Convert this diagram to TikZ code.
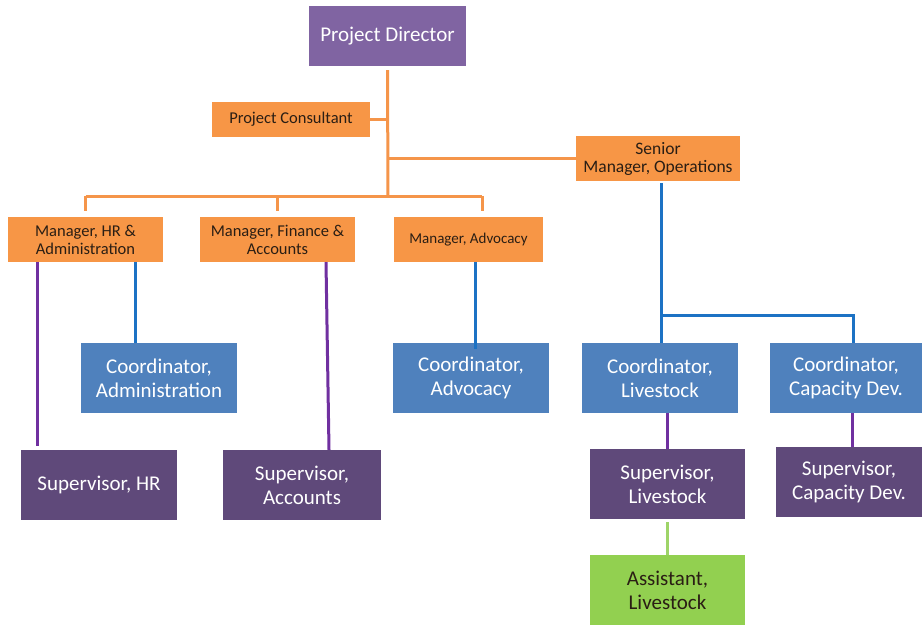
\documentclass[tikz,border=0pt]{standalone}
\usepackage{fontspec}
\setmainfont{Carlito}
\definecolor{orfill}{HTML}{F79646}
\definecolor{blfill}{HTML}{4F81BD}
\definecolor{lifill}{HTML}{8064A2}
\definecolor{dpfill}{HTML}{5F497A}
\definecolor{grfill}{HTML}{92D050}
\definecolor{orline}{HTML}{F5954A}
\definecolor{blline}{HTML}{1C72C4}
\definecolor{puline}{HTML}{7030A0}
\definecolor{grline}{HTML}{9ED468}
\definecolor{darktext}{HTML}{2A1E14}
\begin{document}
\begin{tikzpicture}[x=1pt,y=-1pt,
  box/.style={rectangle,inner sep=0pt,align=center},
  orbox/.style={box,fill=orfill,text=darktext,font=\fontsize{16.5}{18}\selectfont,minimum height=45pt},
  blbox/.style={box,fill=blfill,text=white,font=\fontsize{21}{24}\selectfont,minimum height=70pt},
  dpbox/.style={box,fill=dpfill,text=white,font=\fontsize{21}{24}\selectfont,minimum height=70pt},
  grbox/.style={box,fill=grfill,text=darktext,font=\fontsize{21}{24}\selectfont,minimum height=70pt},
  orl/.style={draw=orline,line width=3pt},
  bll/.style={draw=blline,line width=3pt},
  pul/.style={draw=puline,line width=3pt},
  grl/.style={draw=grline,line width=3pt}]
\useasboundingbox[fill=white] (0,0) rectangle (922,625);
% nodes
\node[box,fill=lifill,text=white,font=\fontsize{21}{24}\selectfont,minimum width=157pt,minimum height=60pt] (pd) at (387.5,36) {Project Director};
\node[orbox,minimum width=158pt,minimum height=35pt] (pc) at (291,119.5) {Project Consultant};
\node[orbox,minimum width=164pt,font=\fontsize{17.5}{18}\selectfont] (sm) at (658,158.5) {Senior\\Manager, Operations};
\node[orbox,minimum width=155pt] (mhr) at (85.5,239.5) {Manager, HR \&\\Administration};
\node[orbox,minimum width=155pt] (mfin) at (277.5,239.5) {Manager, Finance \&\\Accounts};
\node[orbox,minimum width=149pt,font=\fontsize{15}{18}\selectfont] (mad) at (468.5,239.5) {Manager, Advocacy};
\node[blbox,minimum width=156pt] (cadm) at (159,378) {Coordinator,\\Administration};
\node[blbox,minimum width=156pt] (cadv) at (471,378) {Coordinator,\\Advocacy};
\node[blbox,minimum width=156pt] (cl) at (660,378) {Coordinator,\\Livestock};
\node[blbox,minimum width=152pt] (cc) at (846,378) {Coordinator,\\Capacity Dev.};
\node[dpbox,minimum width=156pt] (shr) at (99,485) {Supervisor, HR};
\node[dpbox,minimum width=158pt] (sacc) at (302,485) {Supervisor,\\Accounts};
\node[dpbox,minimum width=155pt] (sl) at (667.5,484) {Supervisor,\\Livestock};
\node[dpbox,minimum width=146pt] (scap) at (849,482) {Supervisor,\\Capacity Dev.};
\node[grbox,minimum width=155pt] (as) at (667.5,590) {Assistant,\\Livestock};
% orange connectors
\coordinate (bus) at (388,196);
\draw[orl] ([yshift=-4pt]pd.south) -- (bus);
\draw[orl] (pc.east) -- (pc.east -| bus);
\draw[orl] (sm.west) -- (sm.west -| bus);
\draw[orl] (mhr.north |- bus) -- ([xshift=13.5pt]mad.north |- bus);
\draw[orl] (mhr.north |- bus) -- ([yshift=6pt]mhr.north);
\draw[orl] (mfin.north |- bus) -- ([yshift=6pt]mfin.north);
\draw[orl] ([xshift=13.5pt]mad.north |- bus) -- ([xshift=13.5pt,yshift=6pt]mad.north);
% blue connectors from senior manager
\coordinate (sb) at (661,315);
\coordinate (sb2) at (853,315);
\draw[bll] ([xshift=3pt,yshift=-2pt]sm.south) -- (sb) -- (sb2) -- (sb2 |- cc.north);
\draw[bll] (sb) -- (sb |- cl.north);
% HR manager
\draw[pul] ([xshift=-48.5pt]mhr.south) -- ([xshift=-48.5pt,yshift=4pt]mhr.south |- shr.north);
\draw[bll] ([xshift=49.5pt]mhr.south) -- ([xshift=49.5pt]mhr.south |- cadm.north);
% Finance manager
\draw[pul] ([xshift=48.5pt]mfin.south) -- ([xshift=27pt]sacc.north);
% Advocacy manager
\draw[bll] ([xshift=6.5pt]mad.south) -- ([xshift=6.5pt,yshift=-6pt]mad.south |- cadv.north);
% lower levels
\draw[pul] ([xshift=7pt]cl.south) -- ([xshift=7pt]cl.south |- sl.north);
\draw[pul] ([xshift=6pt]cc.south) -- ([xshift=6pt]cc.south |- scap.north);
\draw[grl] ([yshift=-3pt]sl.south) -- (sl.south |- as.north);
\end{tikzpicture}
\end{document}
